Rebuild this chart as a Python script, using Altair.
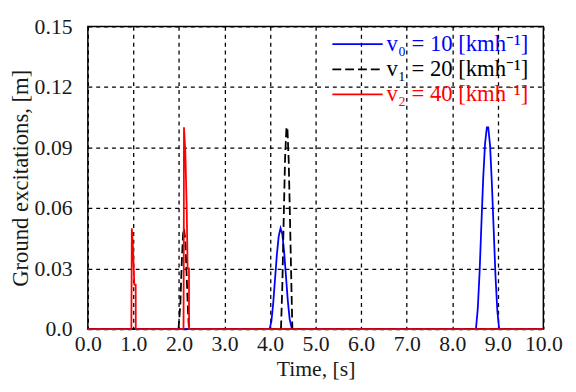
import altair as alt
import pandas as pd

series_names = ["v₀ = 10 [kmh⁻¹]", "v₁ = 20 [kmh⁻¹]", "v₂ = 40 [kmh⁻¹]"]
series_colors = ["#0000ff", "#000000", "#ff0000"]
series_dash = [[1, 0], [9, 4], [1, 0]]

t_v0 = [0.0, 3.99, 4.03, 4.07, 4.11, 4.15, 4.19, 4.23, 4.27, 4.31, 4.35, 4.39, 4.43, 4.48,
        8.52, 8.56, 8.60, 8.64, 8.68, 8.72, 8.76, 8.79, 8.83, 8.87, 8.91, 8.95, 8.99, 9.03, 10.0]
y_v0 = [0, 0, 0.004, 0.013, 0.025, 0.037, 0.046, 0.050, 0.047, 0.038, 0.026, 0.014, 0.005, 0,
        0, 0.010, 0.028, 0.052, 0.075, 0.092, 0.100, 0.100, 0.091, 0.072, 0.049, 0.026, 0.009, 0, 0]

t_v1 = [0.0, 1.99, 2.03, 2.06, 2.09, 2.11, 2.14, 2.17, 2.20, 2.22,
        4.24, 4.27, 4.30, 4.33, 4.36, 4.38, 4.41, 4.44, 4.47, 4.49, 10.0]
y_v1 = [0, 0, 0.012, 0.032, 0.047, 0.050, 0.044, 0.026, 0.008, 0,
        0, 0.022, 0.055, 0.085, 0.100, 0.100, 0.083, 0.052, 0.020, 0, 0]

t_v2 = [0.0, 0.955, 0.96, 0.965, 0.99, 1.02, 1.05, 1.052,
        2.10, 2.105, 2.11, 2.14, 2.17, 2.19, 2.22, 2.222, 10.0]
y_v2 = [0, 0, 0.022, 0.050, 0.041, 0.022, 0.022, 0,
        0, 0.030, 0.100, 0.088, 0.060, 0.030, 0.030, 0, 0]

x_ticks = [0, 1, 2, 3, 4, 5, 6, 7, 8, 9, 10]
y_ticks = [0, 0.03, 0.06, 0.09, 0.12, 0.15]

rows = []
for name, ts, ys in zip(series_names, [t_v0, t_v1, t_v2], [y_v0, y_v1, y_v2]):
    for i, (t, y) in enumerate(zip(ts, ys)):
        rows.append({"series": name, "t": t, "y": y, "idx": i})
df = pd.DataFrame(rows)
legend_df = pd.DataFrame({"series": series_names, "row": [0, 1, 2]})

FONT = "Liberation Serif"
TXT = "#1a1a1a"

color_scale = alt.Scale(domain=series_names, range=series_colors)
dash_scale = alt.Scale(domain=series_names, range=series_dash)

lines = alt.Chart(df).mark_line(strokeWidth=1.8).encode(
    x=alt.X("t:Q", scale=alt.Scale(domain=[0, 10], nice=False),
            axis=alt.Axis(values=x_ticks, format=".1f", title="Time, [s]",
                          grid=True, gridDash=[4, 4], gridColor="black", gridWidth=1.3, gridOpacity=1,
                          tickSize=0, domain=False, labelFlush=False, labelOverlap=False,
                          labelFont=FONT, labelFontSize=22, labelColor=TXT, labelPadding=5,
                          titleFont=FONT, titleFontSize=22, titleFontWeight="normal",
                          titleColor=TXT, titlePadding=4)),
    y=alt.Y("y:Q", scale=alt.Scale(domain=[0, 0.15], nice=False),
            axis=alt.Axis(values=y_ticks,
                          labelExpr="datum.value == 0 ? '0.0' : format(datum.value, '.2f')",
                          title="Ground excitations, [m]",
                          grid=True, gridDash=[4, 4], gridColor="black", gridWidth=1.3, gridOpacity=1,
                          tickSize=0, domain=False, labelFlush=False, labelOverlap=False,
                          labelFont=FONT, labelFontSize=22, labelColor=TXT, labelPadding=16,
                          titleFont=FONT, titleFontSize=23, titleFontWeight="normal",
                          titleColor=TXT, titlePadding=2)),
    color=alt.Color("series:N", scale=color_scale, legend=None),
    strokeDash=alt.StrokeDash("series:N", scale=dash_scale, legend=None),
    order="idx:Q",
)

leg_y = alt.Y("row:Q", scale=alt.Scale(domain=[0, 2], range=[18, 69]), axis=None)

leg_rules = alt.Chart(legend_df).mark_rule(strokeWidth=1.8).encode(
    x=alt.value(248), x2=alt.value(299), y=leg_y,
    color=alt.Color("series:N", scale=color_scale, legend=None),
    strokeDash=alt.StrokeDash("series:N", scale=dash_scale, legend=None),
)

leg_text = alt.Chart(legend_df).mark_text(
    align="left", baseline="middle", font=FONT, fontSize=23
).encode(
    x=alt.value(303), y=leg_y, text="series:N",
    color=alt.Color("series:N", scale=color_scale, legend=None),
)

chart = alt.layer(lines, leg_rules, leg_text).resolve_scale(y="independent").properties(
    width=462, height=307,
    autosize=alt.AutoSizeParams(type="none"),
    padding={"left": 81, "top": 16, "right": 25, "bottom": 53},
).configure(background="white", font=FONT).configure_view(stroke="black", strokeWidth=1.5)

chart.save("out.html", embed_options={"renderer": "svg", "actions": False})
